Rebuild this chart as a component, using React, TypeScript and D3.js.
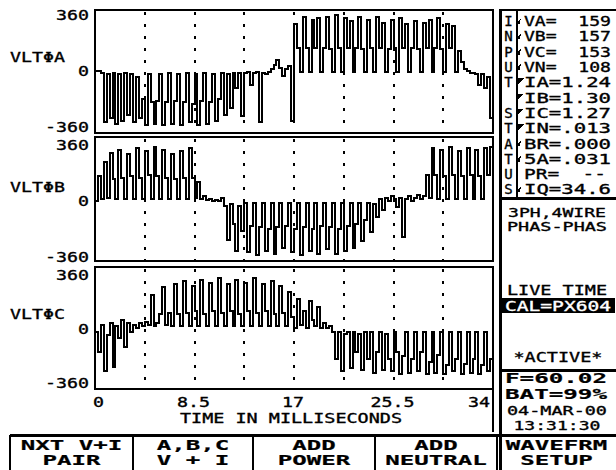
import React from 'react';
import * as d3 from 'd3';

// ---------- data ----------
const TIME_DOMAIN = [0, 34];
const VOLT_DOMAIN = [-360, 360];
const Y_TICKS = [360, 0, -360];
const Y_TICK_LABELS = ['360', '0', '-360'];
const X_TICKS = [0, 8.5, 17, 25.5, 34];
const X_TICK_LABELS = ['0', '8.5', '17', '25.5', '34'];
const GRID_TIMES = [4.25, 8.5, 12.75, 17, 21.25, 25.5, 29.75];
const X_TITLE = 'TIME IN MILLISECONDS';
const PHASE_LABELS = ['VLTΦA', 'VLTΦB', 'VLTΦC'];

const WAVE_A = [
  0, 0, -10, -330, -20, -300, -15, -340, -20, -320,
  -15, -280, -20, -330, -40, -300, -180, -350, -20, -200,
  -340, -190, -20, -350, -200, -15, -340, -190, -20, -350,
  -200, -15, -330, -210, -20, -350, -190, -15, -340, -200,
  -20, -320, -180, -15, -280, -20, -240, -15, -110, -10,
  -290, -10, -5, -90, -10, -5, -330, -10, -20, -5,
  10, 40, 70, 20, -30, 10, 30, -320, 300, 150,
  -5, 350, 150, -5, 330, 150, 340, -5, 150, 350,
  140, -5, 360, 150, -5, 340, 150, 320, -5, 150,
  350, 140, -5, 330, 150, -5, 350, 150, 310, -5,
  140, 330, 150, -5, 340, 150, 300, -5, 150, 320,
  140, -5, 310, 150, 330, -5, 150, 340, 140, -5,
  300, 150, 290, -5, 130, 60, 10, 0, -10, -15,
  -20, -90, -20, -110, -40, -300, -30,
];

const WAVE_B = [
  0, 160, 10, 250, 20, 310, 140, 10, 330, 150,
  10, 300, 160, 10, 340, 150, 10, 320, 170, 10,
  350, 160, 10, 330, 150, 10, 300, 140, 10, 320,
  150, 10, 340, 150, 20, 120, 10, 30, 5, 10,
  0, 5, 0, 20, -30, -250, -20, -150, -320, -30,
  -190, -10, -330, -160, -10, -350, -170, -10, -320, -180,
  -10, -340, -170, -10, -300, -160, -10, -330, -180, -10,
  -350, -170, -10, -320, -180, -10, -340, -160, -10, -310,
  -170, -10, -340, -180, -10, -320, -160, -10, -300, -150,
  -10, -260, -120, -10, -200, -20, -100, 10, -60, 20,
  0, 30, 10, -40, 20, -230, 10, 30, 0, 20,
  40, 10, 30, 170, 20, 340, 170, 10, 330, 160,
  10, 350, 170, 10, 320, 160, 10, 340, 170, 10,
  330, 160, 10, 340, 170, 350, 10,
];

const WAVE_C = [
  -20, -150, 30, -280, -40, 40, -250, 20, -60, 60,
  -120, 40, -20, 30, 10, 40, 20, 50, 30, 230,
  20, 40, 100, 280, 30, 110, 20, 300, 100, 20,
  320, 110, 20, 290, 120, 20, 330, 100, 20, 310,
  120, 20, 340, 110, 20, 300, 120, 20, 330, 100,
  20, 310, 120, 20, 340, 110, 20, 300, 120, 20,
  320, 100, 20, 290, 110, 20, 250, 80, 10, 200,
  30, 120, 10, 190, 60, 20, 150, 10, 40, 10,
  20, -20, -200, -20, -280, -30, -20, -260, -20, -150,
  -30, -270, -20, -200, -20, -290, -150, -20, -270, -30,
  -200, -280, -20, -150, -300, -180, -20, -290, -200, -20,
  -280, -150, -20, -300, -220, -20, -290, -170, -20, -300,
  -240, -20, -280, -200, -20, -300, -230, -20, -290, -200,
  -20, -300, -240, -20, -280, -200, -20,
];

const WAVES = [WAVE_A, WAVE_B, WAVE_C];

const STATUS_LETTERS = ['I', 'N', 'P', 'U', 'T', '', 'S', 'T', 'A', 'T', 'U', 'S'];
const STATUS_ROWS = ['VA=  159', 'VB=  157', 'VC=  153', 'VN=  108', 'IA=1.24', 'IB=1.30', 'IC=1.27', 'IN=.013', 'BR=.000', '5A=.031', 'PR=  --', 'IQ=34.6'];
const STATUS_MARKS = ['hook', 'hook', 'hook', 'hook', 'flag', 'flag', 'flag', 'flag', 'hook', 'hook', '', 'hook'];

const WIRING = ['3PH,4WIRE', 'PHAS-PHAS'];
const LIVE_TEXT = 'LIVE TIME';
const CAL_TEXT = 'CAL=PX604';
const ACTIVE_TEXT = '*ACTIVE*';
const FREQ_TEXT = 'F=60.02';
const BAT_TEXT = 'BAT=99%';
const DATE_TEXT = '04-MAR-00';
const CLOCK_TEXT = '13:31:30';

const BUTTON_LINES = [
  ['NXT V+I', 'PAIR'],
  ['A,B,C', 'V + I'],
  ['ADD', 'POWER'],
  ['ADD', 'NEUTRAL'],
  ['WAVEFRM', 'SETUP'],
];

// ---------- layout ----------
const W = 616;
const H = 470;
const FONT = "'DejaVu Sans Mono', 'Liberation Mono', monospace";
const PLOT_L = 95;
const PLOT_R = 493;
const PANELS = [
  { top: 10, bottom: 133, yHi: 15, yLo: 127, labelY: 57 },
  { top: 137, bottom: 261, yHi: 145, yLo: 257, labelY: 187 },
  { top: 267, bottom: 389, yHi: 275, yLo: 383, labelY: 314 },
];

type TP = {
  x: number; y: number; w?: number; s?: number; anchor?: 'start' | 'middle' | 'end';
  bold?: boolean; fill?: string; children: React.ReactNode;
};
function Txt({ x, y, w, s = 14, anchor = 'start', bold = false, fill = '#000', children }: TP) {
  return (
    <text
      x={x}
      y={y + 0.365 * s}
      fontSize={s}
      fontFamily={FONT}
      fontWeight={bold ? 'bold' : 'normal'}
      textAnchor={anchor}
      fill={fill}
      stroke={fill}
      strokeWidth={bold ? 0.2 : 0.35}
      textLength={w}
      lengthAdjust={w ? 'spacingAndGlyphs' : undefined}
      style={{ whiteSpace: 'pre' }}
    >
      {children}
    </text>
  );
}

export default function App() {
  const x = d3.scaleLinear().domain(TIME_DOMAIN).range([PLOT_L, PLOT_R]);
  const CH = 11; // char advance

  const panels = PANELS.map((p, k) => {
    const y = d3.scaleLinear().domain(VOLT_DOMAIN).range([p.yLo, p.yHi]);
    const wave = WAVES[k];
    const n = wave.length;
    const line = d3
      .line<number>()
      .x((_, i) => x((i * TIME_DOMAIN[1]) / (n - 1)))
      .y((v) => y(v))
      .curve(d3.curveStepAfter);
    return (
      <g key={k}>
        {GRID_TIMES.map((t) => (
          <line
            key={t}
            x1={Math.round(x(t))}
            x2={Math.round(x(t))}
            y1={p.top + 2}
            y2={p.bottom}
            stroke="#000"
            strokeWidth={2}
            strokeDasharray="3 9"
          />
        ))}
        <path d={line(wave) || ''} fill="none" stroke="#000" strokeWidth={2} />
        <rect
          x={PLOT_L}
          y={p.top}
          width={PLOT_R - PLOT_L}
          height={p.bottom - p.top}
          fill="none"
          stroke="#000"
          strokeWidth={2}
        />
        {Y_TICKS.map((v, j) => (
          <Txt key={v} x={89} y={y(v)} anchor="end" w={Y_TICK_LABELS[j].length * CH}>
            {Y_TICK_LABELS[j]}
          </Txt>
        ))}
        <Txt x={10} y={p.labelY} w={55}>
          {PHASE_LABELS[k]}
        </Txt>
      </g>
    );
  });

  const rowY = (i: number) => 21 + 15.3 * i;

  const btnEdges = [10, 133, 253, 375, 497, 616];

  return (
    <svg
      width={W}
      height={H}
      style={{ position: 'absolute', left: 0, top: 0, background: '#fff' }}
      shapeRendering="crispEdges"
    >
      <rect x={0} y={0} width={W} height={H} fill="#fff" />
      {panels}

      {/* x axis labels */}
      {X_TICKS.map((t, j) => {
        const lab = X_TICK_LABELS[j];
        const anchor = j === 0 ? 'start' : j === X_TICKS.length - 1 ? 'end' : 'middle';
        const xx = j === 0 ? x(t) - 2 : j === X_TICKS.length - 1 ? x(t) - 3 : x(t) - 1;
        return (
          <Txt key={t} x={xx} y={402} anchor={anchor} w={lab.length * CH}>
            {lab}
          </Txt>
        );
      })}
      <Txt x={291} y={418} anchor="middle" w={222}>
        {X_TITLE}
      </Txt>
      <line x1={PLOT_R} x2={PLOT_R} y1={389} y2={432} stroke="#000" strokeWidth={2} />

      {/* right status panel */}
      <line x1={500} x2={500} y1={9} y2={H} stroke="#000" strokeWidth={3} />
      <line x1={499} x2={W} y1={10} y2={10} stroke="#000" strokeWidth={2} />
      <line x1={517} x2={517} y1={10} y2={198} stroke="#000" strokeWidth={2} />
      <line x1={499} x2={W} y1={198.5} y2={198.5} stroke="#000" strokeWidth={3} />
      {STATUS_LETTERS.map((c, i) => (
        <Txt key={'l' + i} x={508.5} y={rowY(i)} anchor="middle">
          {c}
        </Txt>
      ))}
      {STATUS_MARKS.map((m, i) => {
        const yy = rowY(i);
        if (m === 'flag')
          return (
            <path key={'m' + i} d={`M518,${yy - 4}L524,${yy - 4}L518,${yy + 2}Z`} fill="#000" />
          );
        if (m === 'hook')
          return (
            <path
              key={'m' + i}
              d={`M519,${yy + 3}L519,${yy}L521,${yy - 2}`}
              fill="none"
              stroke="#000"
              strokeWidth={1.3}
            />
          );
        return null;
      })}
      {STATUS_ROWS.map((row, i) => (
        <Txt key={'s' + i} x={524} y={rowY(i)} w={row.startsWith('PR') ? 82 : 87}>
          {row}
        </Txt>
      ))}

      <Txt x={557} y={212} anchor="middle" w={98} s={13}>
        {WIRING[0]}
      </Txt>
      <Txt x={557} y={226} anchor="middle" w={100} s={13}>
        {WIRING[1]}
      </Txt>
      <Txt x={557} y={290} anchor="middle" w={100}>
        {LIVE_TEXT}
      </Txt>
      <rect x={501} y={298} width={114} height={15} fill="#000" />
      <Txt x={558} y={305.5} anchor="middle" w={106} fill="#fff">
        {CAL_TEXT}
      </Txt>
      <Txt x={558} y={357} anchor="middle" w={89}>
        {ACTIVE_TEXT}
      </Txt>
      <line x1={499} x2={W} y1={370} y2={370} stroke="#000" strokeWidth={3} />
      <Txt x={556} y={378} anchor="middle" w={102} s={14} bold>
        {FREQ_TEXT}
      </Txt>
      <Txt x={556} y={393.5} anchor="middle" w={102} s={14} bold>
        {BAT_TEXT}
      </Txt>
      <Txt x={557} y={410} anchor="middle" w={100} s={13}>
        {DATE_TEXT}
      </Txt>
      <Txt x={557} y={425} anchor="middle" w={87} s={13}>
        {CLOCK_TEXT}
      </Txt>

      {/* buttons */}
      <line x1={10} x2={W} y1={435} y2={435} stroke="#000" strokeWidth={3} />
      {btnEdges.slice(0, 5).map((e) => (
        <line key={e} x1={e} x2={e} y1={435} y2={H} stroke="#000" strokeWidth={2} />
      ))}
      {BUTTON_LINES.map((lines, b) => {
        const cx = (btnEdges[b] + btnEdges[b + 1]) / 2;
        return (
          <g key={'b' + b}>
            {lines.map((ln, r) => (
              <Txt
                key={r}
                x={cx}
                y={r === 0 ? 445 : 460}
                anchor="middle"
                s={14}
                bold
                w={ln.length * 14.5}
              >
                {ln}
              </Txt>
            ))}
          </g>
        );
      })}
    </svg>
  );
}
